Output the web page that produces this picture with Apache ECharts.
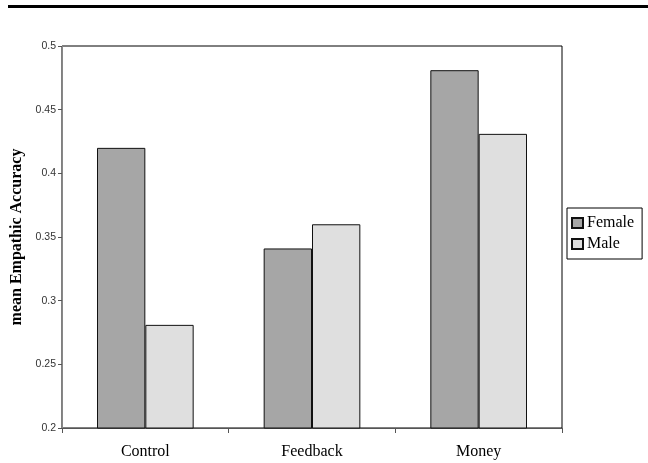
<!DOCTYPE html>
<html>
<head>
<meta charset="utf-8">
<script src="https://cdn.jsdelivr.net/npm/echarts@6/dist/echarts.min.js"></script>
<style>
  html, body { margin: 0; padding: 0; background: #fff; }
  #chart { width: 648px; height: 463px; }
</style>
</head>
<body>
<div id="chart"></div>
<script>
// Mean empathic accuracy by condition and gender
const categories = ['Control', 'Feedback', 'Money'];
const femaleValues = [0.42, 0.341, 0.481];
const maleValues = [0.281, 0.36, 0.431];
const yTicks = { min: 0.2, max: 0.5, step: 0.05 };

const chart = echarts.init(document.getElementById('chart'));

chart.setOption({
  animation: false,
  backgroundColor: '#fff',
  graphic: [
    {
      type: 'rect',
      shape: { x: 8, y: 5, width: 640, height: 3 },
      style: { fill: '#000' }
    }
  ],
  grid: {
    left: 62, right: 86, top: 46, bottom: 35,
    show: true, borderColor: '#000', borderWidth: 1, backgroundColor: '#fff'
  },
  legend: {
    orient: 'vertical',
    left: 567, top: 208,
    padding: [7, 8, 7, 4],
    itemGap: 5,
    itemWidth: 11, itemHeight: 10,
    icon: 'rect',
    borderColor: '#000', borderWidth: 1,
    textStyle: { fontFamily: 'Liberation Serif', fontSize: 16, color: '#000', padding: [0, 0, 0, -1] },
    data: ['Female', 'Male']
  },
  xAxis: {
    type: 'category',
    data: categories,
    axisLine: { lineStyle: { color: '#555', width: 1 } },
    axisTick: { show: true, length: 5, lineStyle: { color: '#555' } },
    axisLabel: { fontFamily: 'Liberation Serif', fontSize: 16, color: '#000', margin: 16 }
  },
  yAxis: {
    type: 'value',
    min: yTicks.min, max: yTicks.max, interval: yTicks.step,
    name: 'mean Empathic Accuracy',
    nameLocation: 'middle',
    nameGap: 36,
    nameTextStyle: { fontFamily: 'Liberation Serif', fontSize: 16, fontWeight: 'bold', color: '#000' },
    splitLine: { show: false },
    axisLine: { show: true, lineStyle: { color: '#888', width: 1 } },
    axisTick: { show: true, length: 4, lineStyle: { color: '#555' } },
    axisLabel: { fontFamily: 'Liberation Sans', fontSize: 10.5, color: '#333', margin: 6 }
  },
  series: [
    {
      name: 'Female', type: 'bar', data: femaleValues,
      barGap: '0%', barCategoryGap: '42%',
      itemStyle: { color: '#a6a6a6', borderColor: '#111', borderWidth: 1 }
    },
    {
      name: 'Male', type: 'bar', data: maleValues,
      itemStyle: { color: '#dfdfdf', borderColor: '#111', borderWidth: 1 }
    }
  ]
});
</script>
</body>
</html>
